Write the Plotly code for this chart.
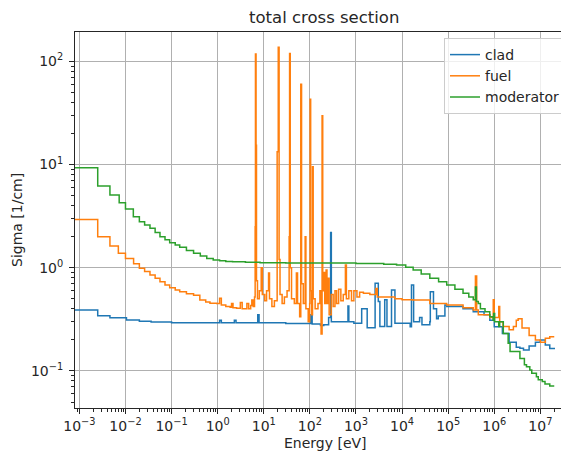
import plotly.graph_objects as go

# ---------------- data (group lower energy [eV], total cross section [1/cm]) ----------------
clad_E = [1e-4, 2.5e-3, 4.6e-3, 1.05e-2, 2.0e-2, 3.6e-2, 0.1, 1.1, 1.2, 2.3, 2.5, 7.4, 7.9, 30,
          105, 112, 170, 200, 255, 282, 292, 670, 700, 900, 1.33e3, 1.75e3, 2.6e3, 3.05e3, 3.3e3,
          4.2e3, 4.7e3, 5.9e3, 7.0e3, 1.5e4, 1.6e4, 1.78e4, 2.4e4, 2.7e4, 4.0e4, 4.1e4, 4.8e4,
          5.6e4, 6.1e4, 8.5e4, 9.3e4, 1.3e5, 2.1e5, 3.5e5, 6.0e5, 8.0e5, 1.0e6, 1.5e6, 2.1e6,
          3.0e6, 3.6e6, 4.3e6, 5.7e6, 7.8e6, 1.0e7, 1.28e7, 1.6e7, 2.0e7]
clad_S = [0.389, 0.343, 0.328, 0.311, 0.303, 0.298, 0.293, 0.31, 0.293, 0.31, 0.293, 0.35, 0.293, 0.289,
          0.35, 0.285, 0.275, 0.28, 0.33, 2.2, 0.30, 0.425, 0.30, 0.29, 0.40, 0.262, 0.706, 0.47, 0.27,
          0.49, 0.27, 0.61, 0.29, 0.268, 0.68, 0.30, 0.33, 0.28, 0.30, 0.585, 0.40,
          0.32, 0.34, 0.435, 0.42, 0.42, 0.40, 0.375, 0.35, 0.31, 0.268, 0.23, 0.19,
          0.17, 0.166, 0.16, 0.174, 0.19, 0.2, 0.178, 0.165, 0.162]

fuel_E = [1e-4, 2.5e-3, 4.6e-3, 7.0e-3, 1.0e-2, 1.5e-2, 2.0e-2, 2.6e-2, 3.4e-2, 4.4e-2, 5.6e-2,
          7.2e-2, 9.1e-2, 0.12, 0.15, 0.21, 0.30, 0.41, 0.55, 0.68, 0.95, 1.1, 1.2, 1.5, 1.86, 2.0,
          2.15, 2.57, 3.1, 3.4, 4.3, 4.7, 5.2, 5.5, 5.9, 6.3, 6.5, 6.6, 6.8, 6.95, 7.3, 8.0, 8.8,
          9.3, 10.5, 11.5, 12.7, 13.3, 15.0, 17.0, 19.5, 20.6, 21.5, 22.5, 25, 28, 32, 35.5, 36.3,
          37.5, 40, 46, 51, 54, 60, 63.5, 66, 72, 79, 82, 92, 99, 101, 104, 110, 114, 118, 130,
          150, 165, 175, 184, 190, 200, 210, 225, 235, 250, 262, 290, 320, 350, 380, 420, 470,
          530, 590, 620, 700, 800, 900, 1050, 1200, 1450, 2000, 2700, 2900, 4000, 7000, 1.0e4,
          1.7e4, 4.0e4, 9.3e4, 2.1e5, 3.5e5, 3.9e5, 4.15e5, 4.5e5, 8.0e5, 9.5e5, 1.0e6, 1.25e6,
          1.31e6, 1.55e6, 2.1e6, 2.6e6, 3.0e6, 3.3e6, 4.0e6, 5.7e6, 7.8e6, 1.0e7, 1.28e7, 1.6e7,
          2.0e7]
fuel_S = [2.94, 2.0, 1.62, 1.38, 1.23, 1.09, 0.99, 0.92, 0.85, 0.79, 0.73,
          0.68, 0.64, 0.61, 0.585, 0.56, 0.54, 0.486, 0.465, 0.452, 0.45, 0.505, 0.435, 0.42, 0.413, 0.45,
          0.41, 0.404, 0.46, 0.40, 0.45, 0.40, 0.43, 0.486, 0.42, 0.52, 2.5, 118, 15.4, 0.75, 0.5, 0.6, 1.0,
          0.55, 0.48, 0.6, 0.89, 0.5, 0.42, 0.48, 13.3, 137, 1.2, 0.55, 0.45, 0.52, 0.6, 2.0, 119,
          1.0, 0.5, 0.45, 0.89, 0.45, 0.335, 60, 0.7, 0.45, 2.0, 0.4, 0.3, 0.45, 43, 0.6, 0.35, 9.5, 0.5, 0.4,
          0.45, 0.6, 0.228, 29.7, 0.6, 0.9, 0.45, 0.95, 0.45, 0.79, 0.35, 0.55, 0.42, 0.6, 0.45, 0.62, 0.48,
          0.55, 1.06, 0.5, 0.6, 0.48, 0.6, 0.52, 0.58, 0.565, 0.55, 0.63, 0.52, 0.52, 0.50, 0.49,
          0.486, 0.45, 0.435, 0.41, 0.39, 0.83, 0.39, 0.35, 0.33, 0.49, 0.33, 0.42,
          0.30, 0.27, 0.25, 0.27, 0.31, 0.32, 0.26, 0.22, 0.20, 0.19, 0.207, 0.214,
          0.214]

mod_E = [1e-4, 2.5e-3, 4.6e-3, 7.3e-3, 1.0e-2, 1.48e-2, 2.0e-2, 2.6e-2, 3.4e-2, 4.4e-2, 5.6e-2,
         7.2e-2, 9.1e-2, 0.12, 0.15, 0.21, 0.30, 0.42, 0.58, 0.8, 1.1, 1.5, 2.1, 4.0, 8.3, 30, 100,
         300, 1000, 2000, 4000, 7600, 1.2e4, 1.74e4, 2.6e4, 4.0e4, 6.2e4, 9.3e4, 1.4e5, 2.1e5, 2.8e5,
         3.5e5, 3.9e5, 4.1e5, 4.5e5, 5.0e5, 6.3e5, 8.0e5, 9.4e5, 9.7e5, 1.02e6, 1.25e6, 1.31e6,
         1.57e6, 2.0e6, 2.2e6, 3.6e6, 4.5e6, 5.0e6, 5.9e6, 6.5e6, 8.2e6, 9.0e6, 1.1e7, 1.26e7, 1.6e7,
         2.0e7]
mod_S = [9.3, 6.2, 5.06, 4.26, 3.7, 3.12, 2.79, 2.6, 2.41, 2.2, 2.0,
         1.87, 1.75, 1.66, 1.58, 1.47, 1.38, 1.30, 1.23, 1.19, 1.17, 1.15, 1.14, 1.13, 1.12, 1.11, 1.11,
         1.11, 1.10, 1.10, 1.08, 1.06, 1.01, 0.95, 0.87, 0.79, 0.73, 0.68, 0.62, 0.565, 0.52,
         0.49, 0.65, 0.47, 0.45, 0.40, 0.375, 0.335, 0.31, 0.36, 0.30, 0.27, 0.30,
         0.23, 0.185, 0.154, 0.132, 0.115, 0.11, 0.102, 0.095, 0.088, 0.082, 0.079, 0.0746, 0.0714,
         0.0714]

series_names = ["clad", "fuel", "moderator"]
series_colors = ["#1f77b4", "#ff7f0e", "#2ca02c"]

x_tick_vals = [1e-3, 1e-2, 1e-1, 1e0, 1e1, 1e2, 1e3, 1e4, 1e5, 1e6, 1e7]
x_tick_text = ["10<sup>\u22123</sup>", "10<sup>\u22122</sup>", "10<sup>\u22121</sup>", "10<sup>0</sup>",
               "10<sup>1</sup>", "10<sup>2</sup>", "10<sup>3</sup>", "10<sup>4</sup>",
               "10<sup>5</sup>", "10<sup>6</sup>", "10<sup>7</sup>"]
y_tick_vals = [1e-1, 1e0, 1e1, 1e2]
y_tick_text = ["10<sup>\u22121</sup>", "10<sup>0</sup>", "10<sup>1</sup>", "10<sup>2</sup>"]

# ---------------- figure ----------------
FONT = "DejaVu Sans"
TXT = "#262626"

fig = go.Figure()
for name, col, E, S in zip(series_names, series_colors,
                           [clad_E, fuel_E, mod_E], [clad_S, fuel_S, mod_S]):
    fig.add_trace(go.Scatter(x=E, y=S, mode="lines", name=name,
                             line=dict(color=col, width=1.5, shape="hv")))

minor_x = [m * 10.0 ** k for k in range(-4, 8) for m in range(2, 10)]
minor_y = [m * 10.0 ** k for k in range(-2, 3) for m in range(2, 10)]

# page has an 8px body margin: the figure is shifted by 8px right and down
OFF = 8
W, H = 569 - OFF, 451 - OFF
L, R, T, B = 75 - OFF, 0, 32 - OFF, H - (408 - OFF)
PW, PH = W - L - R, H - T - B

fig.update_layout(
    width=W, height=H,
    margin=dict(l=L, r=R, t=T, b=B, pad=0),
    paper_bgcolor="white", plot_bgcolor="white",
    font=dict(family=FONT, size=14, color=TXT),
    showlegend=True,
    legend=dict(x=(566 - 75) / PW, y=1 - (38 - 32) / PH, xanchor="right", yanchor="top",
                bgcolor="rgba(255,255,255,0.8)", bordercolor="#cccccc", borderwidth=1,
                font=dict(family=FONT, size=14, color=TXT), tracegroupgap=0,
                itemwidth=30),
    annotations=[
        dict(text="total cross section", xref="paper", yref="paper", x=(323.5 - 75) / PW,
             y=1 + (32 - 17.5) / PH, xanchor="center", yanchor="middle",
             showarrow=False, font=dict(family=FONT, size=16.5, color=TXT)),
        dict(text="Energy [eV]", xref="paper", yref="paper", x=(325 - 75) / PW,
             y=-(443 - 408) / PH, xanchor="center", yanchor="middle",
             showarrow=False, font=dict(family=FONT, size=14, color=TXT)),
        dict(text="Sigma [1/cm]", xref="paper", yref="paper", x=-(75 - 17) / PW,
             y=0.5, xanchor="center", yanchor="middle", textangle=-90,
             showarrow=False, font=dict(family=FONT, size=14, color=TXT)),
    ],
)

fig.update_xaxes(
    type="log", range=[-3.095, 7.621],
    tickmode="array", tickvals=x_tick_vals, ticktext=x_tick_text,
    ticks="outside", ticklen=5, tickwidth=1, tickcolor="#262626",
    showgrid=True, gridcolor="#b0b0b0", gridwidth=1,
    showline=True, linecolor="#262626", linewidth=1, mirror=True,
    zeroline=False, ticklabelstandoff=0,
    tickfont=dict(family=FONT, size=14, color=TXT),
    minor=dict(tickmode="array", tickvals=minor_x, ticks="outside", ticklen=3,
               tickwidth=0.8, tickcolor="#262626", showgrid=False),
)
fig.update_yaxes(
    type="log", range=[-1.359, 2.284],
    tickmode="array", tickvals=y_tick_vals, ticktext=y_tick_text,
    ticks="outside", ticklen=5, tickwidth=1, tickcolor="#262626",
    showgrid=True, gridcolor="#b0b0b0", gridwidth=1,
    showline=True, linecolor="#262626", linewidth=1, mirror=False,
    zeroline=False, ticklabelstandoff=3,
    tickfont=dict(family=FONT, size=14, color=TXT),
    minor=dict(tickmode="array", tickvals=minor_y, ticks="outside", ticklen=3,
               tickwidth=0.8, tickcolor="#262626", showgrid=False),
)

fig.write_html("out.html")
